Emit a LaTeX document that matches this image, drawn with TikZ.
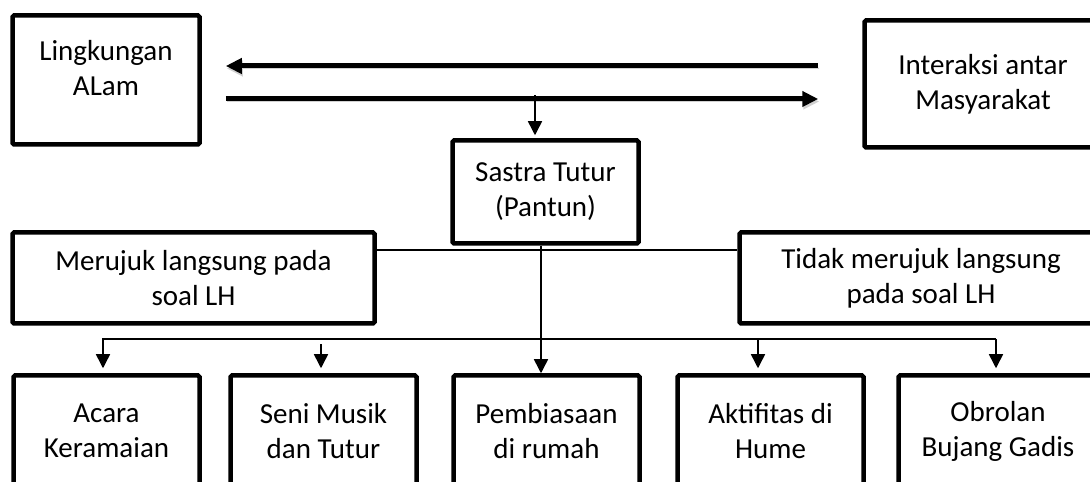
\documentclass[tikz,border=0pt]{standalone}
\usepackage{fontspec}
\setmainfont{Carlito}
\usetikzlibrary{arrows.meta,positioning}

\begin{document}
\begin{tikzpicture}[x=1pt,y=1pt,
    box/.style={draw, line width=4.5pt, rounded corners=1.5pt, align=center,
      inner sep=0pt, font=\fontsize{29}{35}\selectfont},
    leaf/.style={box, minimum width=186pt, minimum height=111pt},
    fatarrow/.style={line width=5pt, -{Triangle[width=15pt,length=16pt]},
      preaction={draw=black!18, transform canvas={shift={(1pt,-2.5pt)}}}},
    thinarrow/.style={line width=1.5pt, -{Triangle[width=14pt,length=14pt]}},
    thinline/.style={line width=1.5pt}]
  \clip (0,0) rectangle (1090,482);

  % top row
  \node[box, minimum width=187pt, minimum height=129pt, text depth=25pt] (lingk) at (106,402) {Lingkungan\\ALam};
  \node[box, minimum width=237pt, minimum height=127pt] (inter) at (983,398) {Interaksi antar\\Masyarakat};
  \node[box, minimum width=186pt, minimum height=103pt] (sastra) at (545.5,290) {Sastra Tutur\\(Pantun)};

  % middle row
  \node[box, minimum width=362pt, minimum height=91pt] (meruj) at (193.5,204) {Merujuk langsung pada\\soal LH};
  \node[box, minimum width=363pt, minimum height=91pt] (tidak) at (921,204) {Tidak merujuk langsung\\pada soal LH};

  % bottom row
  \node[leaf] (acara) at (106.5,51) {Acara\\Keramaian};
  \node[leaf] (seni) at (323.5,51) {Seni Musik\\dan Tutur};
  \node[leaf] (pemb) at (546.5,51) {Pembiasaan\\di rumah};
  \node[leaf] (aktif) at (770.5,51) {Aktifitas di\\Hume};
  \node[leaf, minimum width=199pt] (obrol) at (998,51) {Obrolan\\Bujang Gadis};

  % connectors
  \draw[fatarrow] ([shift={(-44pt,18pt)}]inter.west) -- ([shift={(24pt,14pt)}]lingk.east);
  \draw[fatarrow] ([shift={(24pt,-19pt)}]lingk.east) -- ([shift={(-44pt,-15pt)}]inter.west);
  \draw[thinarrow, shorten >=3pt] ([xshift=-10.5pt]sastra.north) ++(0,43) -- ([xshift=-10.5pt]sastra.north);

  \draw[thinline] ([yshift=28pt]meruj.east) -- ([yshift=28pt]tidak.west);
  \draw[thinarrow] ([xshift=-4.5pt]sastra.south) -- ([xshift=-4.5pt]sastra.south |- pemb.north);

  \draw[thinarrow, shorten >=5pt] ([xshift=-2pt]obrol.north) ++(0,34) -| ([xshift=-3.5pt]acara.north);
  \draw[thinarrow, shorten >=5pt] ([xshift=-2pt]obrol.north) ++(0,34) -- ([xshift=-2pt]obrol.north);
  \draw[thinarrow, shorten >=5pt] ([xshift=-12.5pt]aktif.north) ++(0,34) -- ([xshift=-12.5pt]aktif.north);
  \draw[thinarrow, shorten >=5pt] ([xshift=-2.5pt]seni.north) ++(0,29) -- ([xshift=-2.5pt]seni.north);
\end{tikzpicture}
\end{document}
